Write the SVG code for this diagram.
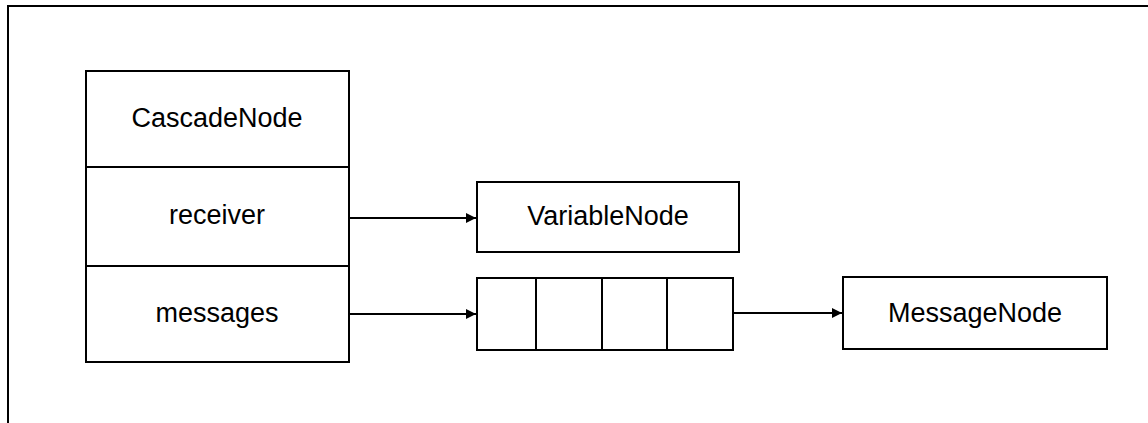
<svg xmlns="http://www.w3.org/2000/svg" width="1148" height="423" viewBox="0 0 1148 423">
  <style>
    .box { fill: #ffffff; stroke: #000000; stroke-width: 2; }
    .wire { fill: none; stroke: #000000; stroke-width: 2; }
    .label { font-family: "Liberation Sans", Arial, sans-serif; font-size: 27px; fill: #000000; text-anchor: middle; }
  </style>
  <defs>
    <marker id="arrow" viewBox="0 0 10 10" refX="10" refY="5" markerWidth="5" markerHeight="5" markerUnits="strokeWidth" orient="auto">
      <path d="M0,0 L10,5 L0,10 z" fill="#000000"/>
    </marker>
  </defs>

  <rect width="1148" height="423" fill="#ffffff"/>

  <!-- frame -->
  <path class="wire" d="M8,423 L8,6 L1148,6"/>

  <!-- connectors -->
  <g id="connectors">
    <line class="wire" x1="349" y1="218" x2="476" y2="218" marker-end="url(#arrow)"/>
    <line class="wire" x1="349" y1="314" x2="476" y2="314" marker-end="url(#arrow)"/>
    <line class="wire" x1="733" y1="313" x2="842" y2="313" marker-end="url(#arrow)"/>
  </g>

  <g id="cascade-node">
    <rect class="box" x="86" y="71" width="263" height="291"/>
    <line class="wire" x1="86" y1="167" x2="349" y2="167"/>
    <line class="wire" x1="86" y1="266" x2="349" y2="266"/>
    <text class="label" x="217" y="127">CascadeNode</text>
    <text class="label" x="217" y="224">receiver</text>
    <text class="label" x="217" y="322">messages</text>
  </g>

  <g id="variable-node">
    <rect class="box" x="477" y="182" width="262" height="70"/>
    <text class="label" x="608" y="225">VariableNode</text>
  </g>

  <g id="message-array">
    <rect class="box" x="477" y="278" width="256" height="72"/>
    <line class="wire" x1="536" y1="278" x2="536" y2="350"/>
    <line class="wire" x1="602" y1="278" x2="602" y2="350"/>
    <line class="wire" x1="667" y1="278" x2="667" y2="350"/>
  </g>

  <g id="message-node">
    <rect class="box" x="843" y="277" width="264" height="72"/>
    <text class="label" x="975" y="322">MessageNode</text>
  </g>
</svg>
